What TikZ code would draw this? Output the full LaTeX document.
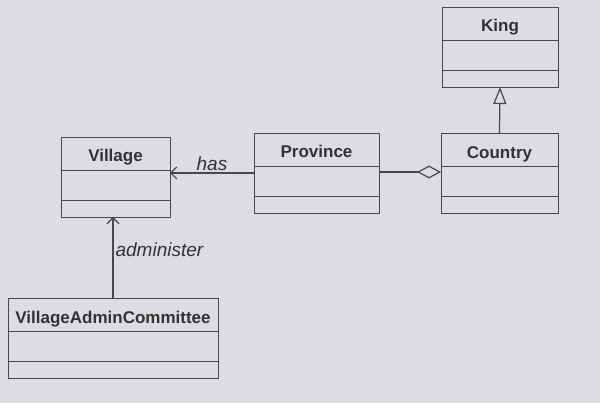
\documentclass[tikz,border=0pt]{standalone}
\usepackage{fontspec}
\setmainfont{Liberation Sans}
\usetikzlibrary{positioning,arrows.meta}
\definecolor{paper}{RGB}{221,221,225}
\definecolor{ink}{RGB}{72,72,76}

\begin{document}
\begin{tikzpicture}[
    x=1pt, y=-1pt,
    cname/.style={draw=ink, line width=0.9pt, inner sep=0pt, outer sep=0pt, minimum height=33pt, text height=17pt, text depth=0pt, text=ink!70!black, font=\bfseries\fontsize{17}{20}\selectfont},
    cpart/.style={draw=ink, line width=0.9pt, inner sep=0pt, outer sep=0pt, minimum height=30pt},
    cops/.style={cpart, minimum height=17pt},
    lbl/.style={text=ink!70!black, font=\itshape\fontsize{19}{22}\selectfont, inner sep=2pt},
    assoc/.style={draw=ink, line width=1.2pt, -{Straight Barb[length=6pt,width=12pt,line width=1.2pt]}},
    aggr/.style={draw=ink, line width=1.2pt, -{Diamond[open,length=24pt,width=13pt,line width=1.2pt]}},
    inher/.style={draw=ink, line width=1.2pt, -{Triangle[open,length=17pt,width=13pt,line width=1.2pt]}}
]
    \fill[paper] (0,0) rectangle (600,403);

    % classes
    \node (king) [cname, minimum width=116pt] at (500,23.5) {King};
    \node (kingattr) [cpart, minimum width=116pt, below=0pt of king] {};
    \node (kingop) [cops, minimum width=116pt, below=0pt of kingattr] {};

    \node (village) [cname, minimum width=109pt] at (115.5,153.5) {Village};
    \node (villageattr) [cpart, minimum width=109pt, below=0pt of village] {};
    \node (villageop) [cops, minimum width=109pt, below=0pt of villageattr] {};

    \node (province) [cname, minimum width=125pt] at (316.5,149.5) {Province};
    \node (provattr) [cpart, minimum width=125pt, below=0pt of province] {};
    \node (provop) [cops, minimum width=125pt, below=0pt of provattr] {};

    \node (country) [cname, minimum width=117pt] at (499.5,150) {Country};
    \node (countryattr) [cpart, minimum width=117pt, below=0pt of country] {};
    \node (countryop) [cops, minimum width=117pt, below=0pt of countryattr] {};

    \node (vac) [cname, minimum width=210pt] at (113,315) {VillageAdminCommittee};
    \node (vacattr) [cpart, minimum width=210pt, below=0pt of vac] {};
    \node (vacop) [cops, minimum width=210pt, below=0pt of vacattr] {};

    % relations
    \draw [assoc] ([yshift=8pt]provattr.west) -- ([yshift=8pt]provattr.west -| villageattr.east)
        node [lbl, above, midway] {has};
    \draw [aggr] ([yshift=9pt]provattr.east) -- ([yshift=9pt]provattr.east -| countryattr.west);
    \draw [inher] (country.north) -- (kingop.south);
    \draw [assoc] (vac.north) -- (vac.north |- villageop.south)
        node [lbl, right, pos=0.6] {administer};
\end{tikzpicture}
\end{document}
